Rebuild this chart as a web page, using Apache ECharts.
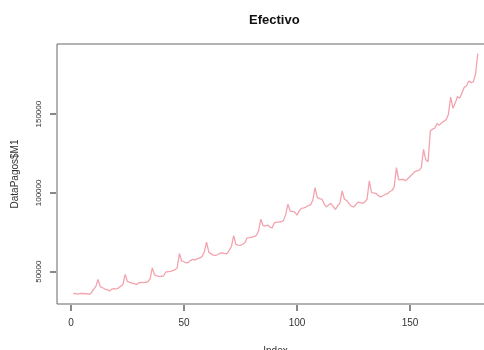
<!DOCTYPE html>
<html>
<head>
<meta charset="utf-8">
<script src="https://cdn.jsdelivr.net/npm/echarts@6/dist/echarts.min.js"></script>
<style>
  html, body { margin: 0; padding: 0; background: #fff; }
  #chart { width: 484px; height: 350px; }
</style>
</head>
<body>
<div id="chart"></div>
<script>
// monthly values of DataPagos$M1, index 1..180 (one row per year)
const efectivo = [
  36000, 36200, 35800, 36100, 36300, 36000, 36100, 35600, 36500, 38800, 40500, 45000,
  40500, 39800, 39000, 38600, 37800, 38900, 39300, 39000, 39600, 40800, 41800, 48300,
  43800, 43200, 42700, 42500, 41800, 42900, 43200, 43100, 43300, 43600, 45500, 52400,
  48000, 47300, 47000, 47100, 47400, 49800, 50000, 50200, 50600, 51200, 52400, 61500,
  56800, 56300, 55600, 55900, 57200, 57800, 57400, 58300, 58800, 59600, 62500, 68700,
  62400, 61300, 60500, 60300, 60900, 61700, 62000, 61500, 61400, 63500, 66000, 72900,
  67300, 66900, 66700, 67400, 68600, 71500, 71600, 72000, 72300, 73000, 75800, 83300,
  79300, 79000, 79600, 78300, 77800, 81000, 81400, 81500, 81700, 82400, 86200, 92900,
  88500, 88200, 87800, 85900, 88700, 90200, 90500, 91000, 92000, 92400, 95300, 103300,
  97000, 96400, 96100, 93000, 91100, 92400, 93300, 91500, 89500, 91800, 93500, 101300,
  96000, 95200, 93200, 91600, 91100, 92500, 94200, 93800, 93300, 94300, 96000, 107700,
  100200, 100000, 99600, 98300, 97500, 98200, 99000, 99500, 100700, 101500, 103800, 116000,
  108200, 108500, 108600, 107700, 109000, 110400, 111800, 113400, 114000, 114300, 116000, 127700,
  121000, 119800, 139500, 140500, 141200, 144000, 143000, 144500, 145500, 146500, 150000, 160800,
  153800, 157000, 161200, 160000, 163500, 167000, 168000, 171000, 170000, 170500, 175500, 188400
];
const xTicks = [0, 50, 100, 150];
const yTicks = [50000, 100000, 150000];

const chartDom = document.getElementById('chart');
const myChart = echarts.init(chartDom, undefined, { renderer: 'canvas' });

const points = efectivo.map((v, i) => [i + 1, v]);
const n = efectivo.length;
const lo = Math.min(...efectivo);
const hi = Math.max(...efectivo);
// R style 4% padding; the right side of the original plot falls past the picture edge
const xPad = (n - 1) * 0.04;
const yPad = (hi - lo) * 0.04;

const font = 'Liberation Sans, Arial, sans-serif';

const option = {
  animation: false,
  title: {
    text: 'Efectivo',
    left: 244,
    top: 9,
    textStyle: { fontFamily: font, fontSize: 13, fontWeight: 'bold', color: '#111' }
  },
  grid: {
    left: 57,
    top: 44,
    right: -10,
    bottom: 46,
    outerBoundsMode: 'none',
    show: true,
    borderColor: '#666',
    borderWidth: 1
  },
  xAxis: {
    type: 'value',
    min: 1 - xPad,
    max: n + xPad,
    offset: 1,
    name: 'Index',
    nameLocation: 'middle',
    nameGap: 41,
    nameTextStyle: { fontFamily: font, fontSize: 10, color: '#333' },
    axisLine: { show: false, onZero: false },
    splitLine: { show: false },
    axisTick: { show: true, length: 6, lineStyle: { color: '#888', width: 2 }, customValues: xTicks },
    axisLabel: { fontFamily: font, fontSize: 10, color: '#333', margin: 13, customValues: xTicks }
  },
  yAxis: {
    type: 'value',
    min: lo - yPad,
    max: hi + yPad,
    offset: 1,
    name: 'DataPagos$M1',
    nameLocation: 'middle',
    nameRotate: 90,
    nameGap: 36,
    nameTextStyle: { fontFamily: font, fontSize: 10, color: '#333' },
    axisLine: { show: false, onZero: false },
    splitLine: { show: false },
    axisTick: { show: true, length: 6, lineStyle: { color: '#888', width: 2 }, customValues: yTicks },
    axisLabel: {
      fontFamily: font,
      fontSize: 8,
      color: '#333',
      rotate: 90,
      margin: 13,
      customValues: yTicks,
      formatter: (v) => String(v)
    }
  },
  series: [
    {
      type: 'line',
      data: points,
      showSymbol: false,
      lineStyle: { color: '#f3a3ae', width: 1.3 },
      itemStyle: { color: '#f3a3ae' }
    }
  ]
};

myChart.setOption(option);
</script>
</body>
</html>
